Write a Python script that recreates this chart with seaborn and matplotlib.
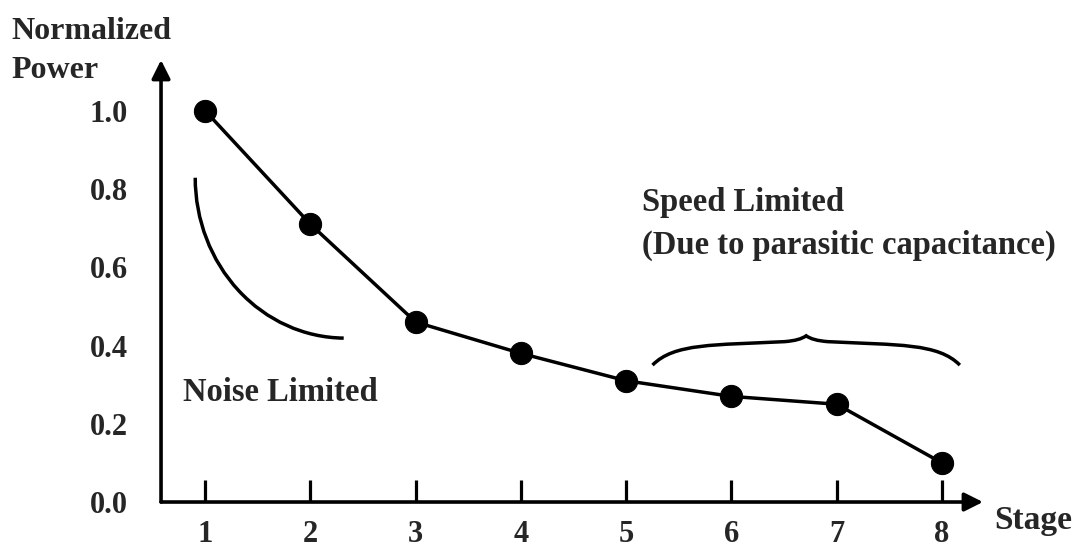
import numpy as np
import pandas as pd
import matplotlib
matplotlib.use("Agg")
import matplotlib.pyplot as plt
from matplotlib.patches import Arc, PathPatch
from matplotlib.path import Path
import seaborn as sns

sns.set_style("white")
plt.rcParams['font.family'] = ['Liberation Serif', 'DejaVu Serif']
plt.rcParams['font.weight'] = 'bold'

# data
stages = [1, 2, 3, 4, 5, 6, 7, 8]
power = [1.0, 0.71, 0.46, 0.38, 0.31, 0.27, 0.25, 0.10]
y_ticks = [0.0, 0.2, 0.4, 0.6, 0.8, 1.0]
y_labels = ["0.0", "0.2", "0.4", "0.6", "0.8", "1.0"]

df = pd.DataFrame({"Stage": stages, "Power": power})

fig = plt.figure(figsize=(10.75, 5.51), dpi=100)
ax = fig.add_axes([0.1498, 0.0889, 0.7646, 0.8022])

sns.lineplot(data=df, x="Stage", y="Power", marker="o", markersize=16,
             color="black", linewidth=2.5, markeredgecolor="black", ax=ax)

ax.set_xlim(0.58, 8.39)
ax.set_ylim(0, 1.13)
for s in ax.spines.values():
    s.set_visible(False)

# axes drawn as arrows
arrow = dict(arrowstyle="-|>", lw=2.6, color="black", mutation_scale=28,
             shrinkA=0, shrinkB=0)
ax.annotate("", xy=(1.0, 0.0), xytext=(0.0, 0.0), xycoords="axes fraction",
            arrowprops=arrow)
ax.annotate("", xy=(0.0, 1.0), xytext=(0.0, 0.0), xycoords="axes fraction",
            arrowprops=arrow)

ax.set_xticks(stages)
ax.set_xticklabels([str(s) for s in stages], fontsize=22, fontweight="bold")
ax.tick_params(axis="x", direction="in", length=16, width=2.3, pad=13,
               color="black", bottom=True)
ax.set_yticks(y_ticks)
ax.set_yticklabels(y_labels, fontsize=22, fontweight="bold")
ax.tick_params(axis="y", length=0, pad=24, left=True)
ax.set_xlabel("")
ax.set_ylabel("")

fig.text(0.011, 0.908, "Normalized\nPower", fontsize=23, fontweight="bold",
         ha="left", va="center", linespacing=1.45)
fig.text(0.925, 0.055, "Stage", fontsize=24, fontweight="bold",
         ha="left", va="center")

ax.text(0.79, 0.279, "Noise Limited", fontsize=23.5, fontweight="bold",
        ha="left", va="center")
ax.text(5.15, 0.71, "Speed Limited\n(Due to parasitic capacitance)",
        fontsize=23.5, fontweight="bold", ha="left", va="center",
        linespacing=1.5)

# noise-limited arc
ax.add_patch(Arc((2.33, 0.829), 2.85, 0.82, theta1=180, theta2=268,
                 lw=2.5, color="black"))


# curly brace over stages 5-8
def brace(x0, x1, y, h):
    w = x1 - x0
    xm = (x0 + x1) / 2
    verts = [
        (x0, y), (x0 + 0.07 * w, y + 0.75 * h), (xm - 0.30 * w, y + 0.68 * h),
        (xm - 0.07 * w, y + 0.80 * h),
        (xm - 0.02 * w, y + 0.84 * h), (xm, y + h),
        (xm + 0.02 * w, y + 0.84 * h), (xm + 0.07 * w, y + 0.80 * h),
        (xm + 0.30 * w, y + 0.68 * h), (x1 - 0.07 * w, y + 0.75 * h), (x1, y),
    ]
    codes = [Path.MOVETO, Path.CURVE4, Path.CURVE4, Path.CURVE4,
             Path.CURVE3, Path.CURVE3, Path.CURVE3, Path.CURVE3,
             Path.CURVE4, Path.CURVE4, Path.CURVE4]
    return Path(verts, codes)


ax.add_patch(PathPatch(brace(5.25, 8.17, 0.35, 0.075), fill=False,
                       lw=2.5, color="black"))

fig.savefig("out.png", dpi=100)
